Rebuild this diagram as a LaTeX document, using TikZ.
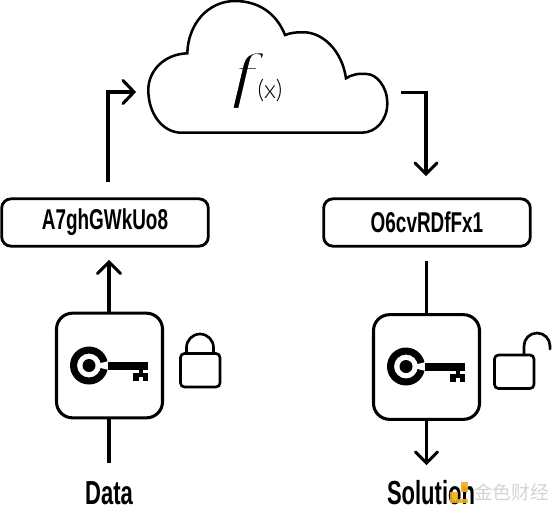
\documentclass[tikz,border=0pt]{standalone}
\usepackage{fontspec}
\setmainfont[FakeStretch=0.66]{Liberation Sans Bold}
\newfontfamily\xfont{Lato Light}
\newfontfamily\ffont[FakeStretch=1.35]{Liberation Serif Italic}
\newfontfamily\cjkfont{Noto Sans CJK SC}
\definecolor{wmgrey}{RGB}{212,212,212}
\definecolor{wmgold}{RGB}{240,175,30}
\tikzset{
  x=0.75pt,y=-0.75pt,
  line/.style={line width=2.3pt,black,line cap=butt},
  hd/.style={line width=2.3pt,line cap=round,line join=miter},
  textbox/.style={draw,line width=2.1pt,rounded corners=7pt,minimum width=155pt,minimum height=35.5pt,inner sep=0pt,font=\fontsize{21.5}{24}\selectfont},
  keybox/.style={draw,line width=2.3pt,rounded corners=12pt,minimum width=79.5pt,minimum height=78.5pt,inner sep=0pt},
  lbl/.style={inner sep=0pt,font=\fontsize{25}{27}\selectfont},
  cloudline/.style={line width=1.9pt,line join=miter},
  lockline/.style={line width=2pt,line cap=round}
}
\newcommand{\keyglyph}[1]{%
  \begin{scope}[shift={(#1)}]
    \fill[even odd rule] (-20.5,0) circle[radius=19] (-20.5,0) circle[radius=12];
    \fill (-20.5,0) circle[radius=6.5];
    \fill[white] (-11,-2) -- (-0.5,-4.5) -- (-0.5,4.5) -- (-11,2) -- cycle;
    \fill (-1.5,-3.5) rectangle (38.5,4);
    \fill (23.5,7.5) rectangle (38.5,15);
    \fill[white] (29,11) rectangle (33,15);
    \fill (29,3) rectangle (33,8);
  \end{scope}}
\begin{document}
\begin{tikzpicture}
\useasboundingbox (0,0) rectangle (558,512);
\fill[white] (0,0) rectangle (558,512);
% cloud
\draw[cloudline] (181.7,132.7) -- (361.7,132.7)
  .. controls (376,132.7) and (387.3,120) .. (387.3,103.3)
  .. controls (387.3,86) and (376,74) .. (366.7,74)
  .. controls (358,73) and (351,75) .. (346,78.3)
  .. controls (342,50) and (322,32) .. (303.3,32.3)
  .. controls (296,32) and (290,33) .. (285,35)
  .. controls (276,12) and (257,1) .. (235,1)
  .. controls (208,1) and (188,24) .. (187.3,53.3)
  .. controls (165,54) and (148.3,70) .. (148.3,90)
  .. controls (148.3,113) and (162,132.7) .. (181.7,132.7) -- cycle;
\node[inner sep=0pt] (fn) at (243,80.5) {\special{pdf:code q 2 Tr 1.3 w 1 1 1 RG}\ffont\fontsize{46}{50}\selectfont f\special{pdf:code Q}};
\node[inner sep=0pt] (arg) at (270,91) {\xfont\fontsize{19}{22}\selectfont(x)};
% text boxes
\node[textbox] (enc) at (105,222.5) {A7ghGWkUo8};
\node[textbox] (res) at (427,222.5) {O6cvRDfFx1};
% key boxes
\node[keybox] (lk) at (109.5,365.5) {};
\node[keybox] (rk) at (426.5,367) {};
\keyglyph{109.5,365.5}
\keyglyph{426.5,366.5}
% labels
\node[lbl] (data) at (109,493) {Data};
\node[lbl] (sol) at (431,493) {Solution};
% watermark
\fill[wmgold,opacity=0.9] (450,492) rectangle (458,503);
\fill[wmgold,opacity=0.9] (458,499) rectangle (468,503);
\fill[wmgold,opacity=0.9] (461,482) rectangle (468,492);
\node[inner sep=0pt,text=wmgrey] (wm) at (511.5,492) {\cjkfont\fontsize{14}{16}\selectfont 金色财经};
% free ends
\coordinate (dataTop) at (109,463);
\coordinate (lkTip) at (109,262);
\coordinate (encTop) at (108,182);
\coordinate (corner1) at (108,92);
\coordinate (cloudIn) at (134,92);
\coordinate (cloudOut) at (401,92.5);
\coordinate (corner2) at (426,92.5);
\coordinate (resTip) at (426,174);
\coordinate (resLow) at (426.5,261);
\coordinate (solTip) at (426.5,463);
% connectors
\draw[line] (dataTop) -- (lk.south -| dataTop);
\draw[line] (lk.north -| lkTip) -- (lkTip);
\draw[hd] (97.5,273.5) -- (lkTip) -- (120.5,273.5);
\draw[line,line join=miter] (encTop) -- (corner1) -- (cloudIn);
\draw[hd] (123,80.5) -- (cloudIn) -- (123,103.5);
\draw[line,line join=miter] (cloudOut) -- (corner2) -- (resTip);
\draw[hd] (415,163) -- (resTip) -- (437,163);
\draw[line] (resLow) -- (rk.north -| resLow);
\draw[line] (rk.south -| solTip) -- (solTip);
\draw[hd] (415.5,452) -- (solTip) -- (437.5,452);
% closed lock
\draw[lockline,rounded corners=3pt] (180.5,353.5) rectangle (220,387);
\draw[lockline] (186.5,353.5) -- (186.5,347.5) arc[start angle=180,end angle=360,radius=13.5] -- (213.5,353.5);
% open lock
\draw[lockline,rounded corners=3pt] (494.5,355) rectangle (534,388.5);
\draw[lockline] (524,355) -- (524,346) arc[start angle=180,end angle=360,radius=13] -- (550,349);
\end{tikzpicture}
\end{document}
